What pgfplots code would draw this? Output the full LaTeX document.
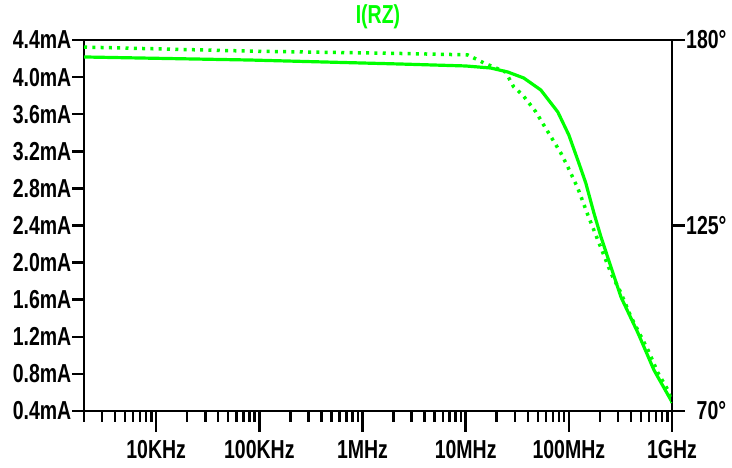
\documentclass[border=0pt]{standalone}
\usepackage{fontspec}
\setmainfont{Liberation Sans}[FakeStretch=0.75]
\usepackage{pgfplots}
\pgfplotsset{compat=1.18}
\pgfkeys{/pgf/number format/assume math mode=true}
\definecolor{lt}{RGB}{0,255,0}
\pgfplotsset{every axis/.append style={
    scale only axis, width=588pt, height=371pt,
    tick align=outside,
    tick style={line width=2.5pt, black},
    axis line style={line width=2.5pt, black, -},
    ticklabel style={font=\fontsize{26}{26}\selectfont\bfseries, text=black}}}
\begin{document}
\begin{tikzpicture}
% x axis
\begin{axis}[xmode=log, xmin=2000, xmax=1e9, at={(0,0)}, anchor=south west,
  axis y line=none, axis x line*=bottom, ymin=0.4, ymax=4.4,
  xtick={1e4,1e5,1e6,1e7,1e8,1e9},
  xticklabels={10KHz,100KHz,1MHz,10MHz,100MHz,1GHz},
  minor xtick={2000,3000,4000,5000,6000,7000,8000,9000,20000,30000,40000,50000,60000,70000,80000,90000,200000,300000,400000,500000,600000,700000,800000,900000,2e6,3e6,4e6,5e6,6e6,7e6,8e6,9e6,2e7,3e7,4e7,5e7,6e7,7e7,8e7,9e7,2e8,3e8,4e8,5e8,6e8,7e8,8e8,9e8},
  major tick length=21pt, minor tick length=11pt,
  xticklabel style={yshift=-5pt}]
\addplot[draw=none] coordinates {(2000,1) (1e9,1)};
\end{axis}
% left y axis and top line, magnitude
\begin{axis}[xmode=log, xmin=2000, xmax=1e9, at={(0,0)}, anchor=south west,
  axis y line*=left, axis x line*=top, xtick=\empty,
  ymin=0.4, ymax=4.4,
  ytick={0.4,0.8,1.2,1.6,2.0,2.4,2.8,3.2,3.6,4.0,4.4},
  yticklabels={0.4mA,0.8mA,1.2mA,1.6mA,2.0mA,2.4mA,2.8mA,3.2mA,3.6mA,4.0mA,4.4mA},
  major tick length=12pt,
  yticklabel style={inner sep=0.5pt},
  title={I(RZ)},
  title style={font=\fontsize{26}{26}\selectfont\bfseries, text=lt, anchor=south, yshift=5pt, inner sep=0pt}]
\addplot[lt, line width=3.2pt] coordinates {
(2000,4.217) (82000,4.184) (2.34e6,4.141) (1e7,4.12) (1.75e7,4.098)
(2.56e7,4.055) (3.66e7,3.990) (5.35e7,3.861) (7.82e7,3.624) (1.0e8,3.376)
(1.25e8,3.074) (1.46e8,2.858) (1.75e8,2.535) (2.05e8,2.276) (3.2e8,1.629)
(4.68e8,1.241) (6.68e8,0.842) (1e9,0.497)};
\end{axis}
% right y axis, phase
\begin{axis}[xmode=log, xmin=2000, xmax=1e9, at={(0,0)}, anchor=south west,
  axis y line*=right, axis x line=none, ymin=70, ymax=180,
  ytick={70,125,180}, yticklabels={70\textdegree,125\textdegree,180\textdegree},
  major tick length=13pt,
  yticklabel style={text width=40pt, align=right, inner sep=1pt}]
\addplot[lt, line width=3.5pt, dash pattern=on 3pt off 5.3pt] coordinates {
(2000,177.9) (82000,176.7) (2.34e6,176.0) (1.04e7,175.6) (1.31e7,174.1)
(1.50e7,173.2) (2.44e7,170.5) (2.92e7,166.1) (3.57e7,163.7) (4.79e7,158.7)
(5.71e7,154.8) (7.0e7,150.4) (8.36e7,146.5) (9.77e7,142.4) (1.22e8,136.1)
(1.53e8,128.1) (1.91e8,120.7) (2.56e8,110.9) (3.2e8,105.0) (4.0e8,97.9)
(5.85e8,88.1) (7.31e8,81.3) (9.14e8,76.2) (1e9,72.4)};
\end{axis}
\pgfresetboundingbox
\path (-84pt,-57pt) rectangle (648pt,411pt);
\end{tikzpicture}
\end{document}
